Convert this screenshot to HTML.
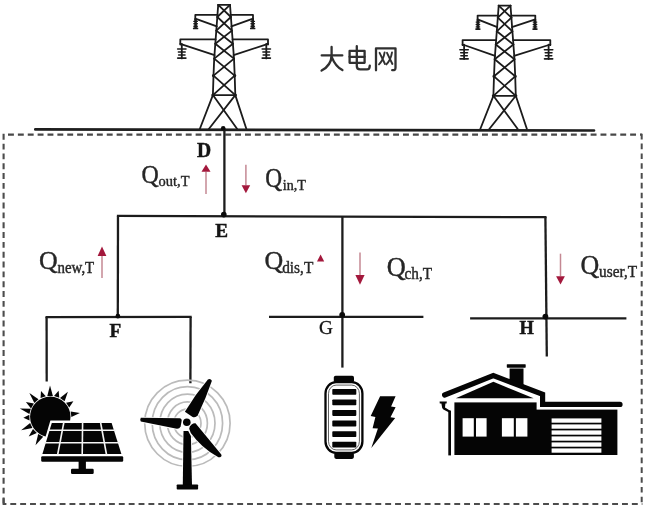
<!DOCTYPE html>
<html lang="zh">
<head>
<meta charset="utf-8">
<title>Grid diagram</title>
<style>
html,body{margin:0;padding:0;background:#fff;}
body{width:648px;height:510px;overflow:hidden;font-family:"Liberation Serif",serif;}
svg{display:block;filter:blur(0.6px);}
</style>
</head>
<body>
<svg width="648" height="510" viewBox="0 0 648 510">
<rect width="648" height="510" fill="#fff"/>
<g fill="none" stroke="#1b1b1b" stroke-width="1.8" stroke-linecap="round" stroke-linejoin="round">
<polyline points="218.2,4.9 217.3,17.0 216.3,30.6 215.3,43.8 214.2,58.6 213.5,75.6 212.9,95.1"/>
<polyline points="230.0,4.9 230.9,17.0 231.9,30.6 232.9,43.8 234.0,58.6 234.7,75.6 235.3,95.1"/>
<line x1="218.2" y1="4.9" x2="230.0" y2="4.9"/>
<line x1="212.9" y1="95.1" x2="235.3" y2="95.1"/>
<line x1="218.2" y1="4.9" x2="230.9" y2="17.0"/>
<line x1="230.0" y1="4.9" x2="217.3" y2="17.0"/>
<line x1="217.3" y1="17.0" x2="231.9" y2="30.6"/>
<line x1="230.9" y1="17.0" x2="216.3" y2="30.6"/>
<line x1="216.3" y1="30.6" x2="232.9" y2="43.8"/>
<line x1="231.9" y1="30.6" x2="215.3" y2="43.8"/>
<line x1="215.3" y1="43.8" x2="234.0" y2="58.6"/>
<line x1="232.9" y1="43.8" x2="214.2" y2="58.6"/>
<line x1="214.2" y1="58.6" x2="234.7" y2="75.6"/>
<line x1="234.0" y1="58.6" x2="213.5" y2="75.6"/>
<line x1="213.5" y1="75.6" x2="235.3" y2="95.1"/>
<line x1="234.7" y1="75.6" x2="212.9" y2="95.1"/>
<line x1="212.9" y1="95.1" x2="199.8" y2="129.0"/>
<line x1="235.3" y1="95.1" x2="246.4" y2="129.0"/>
<line x1="212.9" y1="95.1" x2="237.2" y2="129.0"/>
<line x1="235.3" y1="95.1" x2="208.8" y2="129.0"/>
<circle cx="213.5" cy="75.6" r="0.7"/>
<circle cx="234.7" cy="75.6" r="0.7"/>
<circle cx="212.9" cy="95.1" r="0.7"/>
<circle cx="235.3" cy="95.1" r="0.7"/>
<polyline points="195.3,19.5 195.3,14.9 217.6,14.9"/>
<polyline points="230.6,14.9 253.0,14.9 253.0,19.5"/>
<line x1="195.3" y1="18.6" x2="216.8" y2="26.4"/>
<line x1="253.0" y1="18.6" x2="231.4" y2="26.4"/>
<polyline points="180.3,44.5 180.3,39.4 215.6,39.4"/>
<polyline points="232.6,39.4 268.0,39.4 268.0,44.5"/>
<line x1="180.3" y1="43.8" x2="214.6" y2="55.2"/>
<line x1="268.0" y1="43.8" x2="233.6" y2="55.2"/>
<line x1="195.6" y1="19.0" x2="195.6" y2="28.4" stroke-width="2.6" stroke-linecap="butt"/>
<line x1="193.9" y1="21.4" x2="197.3" y2="21.4" stroke-width="1.4"/>
<line x1="193.9" y1="23.8" x2="197.3" y2="23.8" stroke-width="1.4"/>
<line x1="193.9" y1="26.2" x2="197.3" y2="26.2" stroke-width="1.4"/>
<line x1="193.7" y1="28.4" x2="197.5" y2="28.4" stroke-width="1.7"/>
<line x1="252.7" y1="19.0" x2="252.7" y2="28.4" stroke-width="2.6" stroke-linecap="butt"/>
<line x1="251.0" y1="21.4" x2="254.4" y2="21.4" stroke-width="1.4"/>
<line x1="251.0" y1="23.8" x2="254.4" y2="23.8" stroke-width="1.4"/>
<line x1="251.0" y1="26.2" x2="254.4" y2="26.2" stroke-width="1.4"/>
<line x1="250.8" y1="28.4" x2="254.6" y2="28.4" stroke-width="1.7"/>
<line x1="181.8" y1="44.0" x2="181.8" y2="58.4" stroke-width="1.8"/>
<line x1="177.6" y1="49.0" x2="186.0" y2="49.0" stroke-width="1.5"/>
<line x1="178.4" y1="52.0" x2="185.2" y2="52.0" stroke-width="1.5"/>
<line x1="178.6" y1="55.0" x2="185.0" y2="55.0" stroke-width="1.5"/>
<line x1="177.8" y1="58.1" x2="185.8" y2="58.1" stroke-width="1.8"/>
<line x1="266.3" y1="44.0" x2="266.3" y2="58.4" stroke-width="1.8"/>
<line x1="262.1" y1="49.0" x2="270.5" y2="49.0" stroke-width="1.5"/>
<line x1="262.9" y1="52.0" x2="269.7" y2="52.0" stroke-width="1.5"/>
<line x1="263.1" y1="55.0" x2="269.5" y2="55.0" stroke-width="1.5"/>
<line x1="262.3" y1="58.1" x2="270.3" y2="58.1" stroke-width="1.8"/>
<polyline points="498.7,5.6 497.8,17.7 496.8,31.3 495.8,44.5 494.7,59.3 494.0,76.3 493.4,95.8"/>
<polyline points="510.5,5.6 511.4,17.7 512.4,31.3 513.4,44.5 514.5,59.3 515.2,76.3 515.8,95.8"/>
<line x1="498.7" y1="5.6" x2="510.5" y2="5.6"/>
<line x1="493.4" y1="95.8" x2="515.8" y2="95.8"/>
<line x1="498.7" y1="5.6" x2="511.4" y2="17.7"/>
<line x1="510.5" y1="5.6" x2="497.8" y2="17.7"/>
<line x1="497.8" y1="17.7" x2="512.4" y2="31.3"/>
<line x1="511.4" y1="17.7" x2="496.8" y2="31.3"/>
<line x1="496.8" y1="31.3" x2="513.4" y2="44.5"/>
<line x1="512.4" y1="31.3" x2="495.8" y2="44.5"/>
<line x1="495.8" y1="44.5" x2="514.5" y2="59.3"/>
<line x1="513.4" y1="44.5" x2="494.7" y2="59.3"/>
<line x1="494.7" y1="59.3" x2="515.2" y2="76.3"/>
<line x1="514.5" y1="59.3" x2="494.0" y2="76.3"/>
<line x1="494.0" y1="76.3" x2="515.8" y2="95.8"/>
<line x1="515.2" y1="76.3" x2="493.4" y2="95.8"/>
<line x1="493.4" y1="95.8" x2="480.3" y2="129.0"/>
<line x1="515.8" y1="95.8" x2="526.9" y2="129.0"/>
<line x1="493.4" y1="95.8" x2="517.7" y2="129.0"/>
<line x1="515.8" y1="95.8" x2="489.3" y2="129.0"/>
<circle cx="494.0" cy="76.3" r="0.7"/>
<circle cx="515.2" cy="76.3" r="0.7"/>
<circle cx="493.4" cy="95.8" r="0.7"/>
<circle cx="515.8" cy="95.8" r="0.7"/>
<polyline points="477.6,20.2 477.6,15.6 498.1,15.6"/>
<polyline points="511.1,15.6 535.3,15.6 535.3,20.2"/>
<line x1="477.6" y1="19.3" x2="497.3" y2="27.1"/>
<line x1="535.3" y1="19.3" x2="511.9" y2="27.1"/>
<polyline points="462.6,45.2 462.6,40.1 496.1,40.1"/>
<polyline points="513.1,40.1 550.3,40.1 550.3,45.2"/>
<line x1="462.6" y1="44.5" x2="495.1" y2="55.9"/>
<line x1="550.3" y1="44.5" x2="514.1" y2="55.9"/>
<line x1="477.9" y1="19.7" x2="477.9" y2="29.1" stroke-width="2.6" stroke-linecap="butt"/>
<line x1="476.2" y1="22.1" x2="479.6" y2="22.1" stroke-width="1.4"/>
<line x1="476.2" y1="24.5" x2="479.6" y2="24.5" stroke-width="1.4"/>
<line x1="476.2" y1="26.9" x2="479.6" y2="26.9" stroke-width="1.4"/>
<line x1="476.0" y1="29.1" x2="479.8" y2="29.1" stroke-width="1.7"/>
<line x1="535.0" y1="19.7" x2="535.0" y2="29.1" stroke-width="2.6" stroke-linecap="butt"/>
<line x1="533.3" y1="22.1" x2="536.7" y2="22.1" stroke-width="1.4"/>
<line x1="533.3" y1="24.5" x2="536.7" y2="24.5" stroke-width="1.4"/>
<line x1="533.3" y1="26.9" x2="536.7" y2="26.9" stroke-width="1.4"/>
<line x1="533.1" y1="29.1" x2="536.9" y2="29.1" stroke-width="1.7"/>
<line x1="464.1" y1="44.7" x2="464.1" y2="59.1" stroke-width="1.8"/>
<line x1="459.9" y1="49.7" x2="468.3" y2="49.7" stroke-width="1.5"/>
<line x1="460.7" y1="52.7" x2="467.5" y2="52.7" stroke-width="1.5"/>
<line x1="460.9" y1="55.7" x2="467.3" y2="55.7" stroke-width="1.5"/>
<line x1="460.1" y1="58.8" x2="468.1" y2="58.8" stroke-width="1.8"/>
<line x1="548.6" y1="44.7" x2="548.6" y2="59.1" stroke-width="1.8"/>
<line x1="544.4" y1="49.7" x2="552.8" y2="49.7" stroke-width="1.5"/>
<line x1="545.2" y1="52.7" x2="552.0" y2="52.7" stroke-width="1.5"/>
<line x1="545.4" y1="55.7" x2="551.8" y2="55.7" stroke-width="1.5"/>
<line x1="544.6" y1="58.8" x2="552.6" y2="58.8" stroke-width="1.8"/>
</g>
<line x1="35.3" y1="129.4" x2="594.0" y2="130.5" stroke="#1e1e1e" stroke-width="2.7" stroke-linecap="round"/>
<path d="M8.0,134.6 H641.9" fill="none" stroke="#484848" stroke-width="2.3" stroke-dasharray="5.9 3.975"/>
<path d="M3.6,133.8 V503.9" fill="none" stroke="#4c4c4c" stroke-width="2.1" stroke-dasharray="5.9 3.93"/>
<path d="M641.7,133.8 V503.9" fill="none" stroke="#4c4c4c" stroke-width="2.0" stroke-dasharray="5.6 4.21"/>
<path d="M3.6,498.2 V503.9 H6.4" fill="none" stroke="#4c4c4c" stroke-width="2.0"/>
<path d="M10.3,503.9 H642.4" fill="none" stroke="#4c4c4c" stroke-width="2.0" stroke-dasharray="5.9 3.966"/>
<g fill="none" stroke="#1c1c1c" stroke-width="2.3" stroke-linecap="butt">
<line x1="224.4" y1="129" x2="224.4" y2="216.2"/>
<line x1="116.9" y1="215.9" x2="546.5" y2="217.2"/>
<line x1="118.0" y1="215.9" x2="117.8" y2="317"/>
<line x1="45.5" y1="317.1" x2="191.7" y2="316.9"/>
<line x1="46.6" y1="317" x2="46.7" y2="381.4"/>
<line x1="190.6" y1="317" x2="190.4" y2="383.2"/>
<line x1="342.4" y1="216.5" x2="342.4" y2="367.6"/>
<line x1="269.0" y1="316.8" x2="423.4" y2="316.8"/>
<line x1="545.4" y1="217" x2="546.8" y2="356.4"/>
<line x1="470.1" y1="318.4" x2="626.4" y2="318.3"/>
</g>
<circle cx="223.2" cy="128.3" r="2.3" fill="#0a0a0a"/>
<circle cx="223.8" cy="214.6" r="2.8" fill="#0a0a0a"/>
<circle cx="117.9" cy="316.2" r="2.4" fill="#0a0a0a"/>
<circle cx="342.2" cy="314.8" r="2.9" fill="#0a0a0a"/>
<circle cx="545.4" cy="316.6" r="2.9" fill="#0a0a0a"/>
<line x1="206.0" y1="171.7" x2="206.0" y2="193.9" stroke="#c48893" stroke-width="1.5"/><polygon points="206.0,164.5 201.5,171.7 210.5,171.7" fill="#a3183c"/>
<line x1="245.9" y1="185.20000000000002" x2="245.9" y2="164.7" stroke="#c48893" stroke-width="1.5"/><polygon points="245.9,193.3 241.6,185.20000000000002 250.20000000000002,185.20000000000002" fill="#a3183c"/>
<line x1="102.0" y1="255.9" x2="102.0" y2="277.9" stroke="#c48893" stroke-width="1.5"/><polygon points="102.0,246.6 97.6,255.9 106.4,255.9" fill="#a3183c"/>
<line x1="360.0" y1="274.9" x2="360.0" y2="252.4" stroke="#c48893" stroke-width="1.5"/><polygon points="360.0,284.7 355.4,274.9 364.6,274.9" fill="#a3183c"/>
<line x1="560.5" y1="276.20000000000005" x2="560.5" y2="253.7" stroke="#c48893" stroke-width="1.5"/><polygon points="560.5,284.6 556.1,276.20000000000005 564.9,276.20000000000005" fill="#a3183c"/>
<polygon points="320.6,254.4 317.0,261.4 324.2,261.4" fill="#a3183c"/>
<text transform="translate(141.47,182.91) scale(1,1.029)" font-family="'Liberation Serif', serif" font-size="23.94" fill="#262626" stroke="#262626" stroke-width="0.38">Q</text>
<text transform="translate(158.60,185.95) scale(1,1.001)" font-family="'Liberation Serif', serif" font-size="14.49" fill="#262626" stroke="#262626" stroke-width="0.38">out,T</text>
<text transform="translate(265.19,187.18) scale(1,1.130)" font-family="'Liberation Serif', serif" font-size="23.34" fill="#262626" stroke="#262626" stroke-width="0.38">Q</text>
<text transform="translate(282.75,190.35) scale(1,1.092)" font-family="'Liberation Serif', serif" font-size="14.12" fill="#262626" stroke="#262626" stroke-width="0.38">in,T</text>
<text transform="translate(39.09,269.19) scale(1,0.979)" font-family="'Liberation Serif', serif" font-size="25.90" fill="#262626" stroke="#262626" stroke-width="0.38">Q</text>
<text transform="translate(57.51,272.75) scale(1,1.094)" font-family="'Liberation Serif', serif" font-size="14.92" fill="#262626" stroke="#262626" stroke-width="0.38">new,T</text>
<text transform="translate(264.39,269.19) scale(1,0.979)" font-family="'Liberation Serif', serif" font-size="25.90" fill="#262626" stroke="#262626" stroke-width="0.38">Q</text>
<text transform="translate(282.20,273.25) scale(1,1.093)" font-family="'Liberation Serif', serif" font-size="15.34" fill="#262626" stroke="#262626" stroke-width="0.38">dis,T</text>
<text transform="translate(386.67,275.57) scale(1,1.034)" font-family="'Liberation Serif', serif" font-size="26.35" fill="#262626" stroke="#262626" stroke-width="0.38">Q</text>
<text transform="translate(404.57,278.75) scale(1,1.069)" font-family="'Liberation Serif', serif" font-size="15.26" fill="#262626" stroke="#262626" stroke-width="0.38">ch,T</text>
<text transform="translate(580.49,273.57) scale(1,1.052)" font-family="'Liberation Serif', serif" font-size="25.90" fill="#262626" stroke="#262626" stroke-width="0.38">Q</text>
<text transform="translate(599.05,276.75) scale(1,1.093)" font-family="'Liberation Serif', serif" font-size="15.34" fill="#262626" stroke="#262626" stroke-width="0.38">user,T</text>
<text transform="translate(197.0,156.8) scale(1,1.09)" font-family="'Liberation Serif', serif" font-size="19.6" font-weight="bold" fill="#151515" stroke="#151515" stroke-width="0.45">D</text>
<text transform="translate(215.2,237.2) scale(1,1.03)" font-family="'Liberation Serif', serif" font-size="19.2" font-weight="bold" fill="#151515" stroke="#151515" stroke-width="0.45">E</text>
<text transform="translate(109.6,336.6) scale(1,1.0)" font-family="'Liberation Serif', serif" font-size="19.2" font-weight="bold" fill="#151515" stroke="#151515" stroke-width="0.45">F</text>
<text transform="translate(318.9,334.0) scale(1,1.0)" font-family="'Liberation Serif', serif" font-size="19.2" font-weight="normal" fill="#151515" stroke="#151515" stroke-width="0.3">G</text>
<text transform="translate(519.6,334.4) scale(1,1.05)" font-family="'Liberation Serif', serif" font-size="18.4" font-weight="bold" fill="#151515" stroke="#151515" stroke-width="0.45">H</text>
<g fill="none" stroke="#303030" stroke-width="2.3" stroke-linecap="round" stroke-linejoin="round">
<path d="M321.7,55.4 H342.3"/>
<path d="M331.6,46.9 V55.4 C331.4,62 327.6,67.4 321.6,70.6"/>
<path d="M331.9,57.3 C334,62.8 337.4,67.3 342.4,70.1"/>
<path d="M349.6,50.9 H364.6 V62.8 H349.6 Z"/>
<path d="M349.6,56.8 H364.6"/>
<path d="M356.8,46.2 V66.0 C356.8,68.5 357.7,69.4 360.2,69.4 H367.0 C369.0,69.4 369.7,68.5 369.8,65.6"/>
<path d="M376.0,70.3 V48.3 H395.5 V67.8 C395.5,69.7 394.7,70.3 392.2,70.2"/>
<path d="M379.6,52.8 L385.0,64.0 M384.6,52.4 C383.8,57.4 382.0,61.4 379.0,64.4" stroke-width="1.9"/>
<path d="M387.0,52.8 L392.4,64.0 M392.0,52.4 C391.2,57.4 389.4,61.4 386.4,64.4" stroke-width="1.9"/>
</g>
<g fill="#050505">
<circle cx="50.3" cy="416.8" r="20.2"/>
<polygon points="79.9,413.0 70.7,411.4 71.4,416.9"/>
<polygon points="73.4,401.3 66.1,402.8 69.2,407.5"/>
<polygon points="67.9,391.7 60.0,398.1 64.6,401.3"/>
<polygon points="58.6,390.7 54.0,396.0 59.3,397.7"/>
<polygon points="50.0,385.5 47.3,395.9 52.9,395.9"/>
<polygon points="41.0,391.0 40.6,398.1 45.8,396.2"/>
<polygon points="29.4,393.1 34.4,403.0 38.5,399.3"/>
<polygon points="25.9,402.0 31.0,408.4 33.9,403.6"/>
<polygon points="19.8,408.6 29.4,414.1 30.8,408.7"/>
<polygon points="23.4,417.8 29.5,420.4 29.3,414.8"/>
<polygon points="21.1,430.2 32.4,428.0 30.1,423.0"/>
<polygon points="28.7,436.6 36.8,433.0 33.0,428.9"/>
<polygon points="35.5,445.3 43.2,436.7 38.2,434.1"/>
</g>
<polygon points="50.4,420.6 112.6,420.6 125.6,463.6 37.6,463.6" fill="#fff"/>
<polygon points="51.8,423.1 111.6,423.1 121.4,454.1 42.4,454.1" fill="#050505"/>
<g stroke="#f4f4f4" stroke-width="1.6" fill="none">
<line x1="48" y1="430.3" x2="116" y2="430.3"/>
<line x1="44" y1="442.7" x2="120" y2="442.7"/>
<line x1="63.9" y1="422" x2="57.6" y2="455"/>
<line x1="82.6" y1="422" x2="82.2" y2="455"/>
<line x1="100.5" y1="422" x2="106.6" y2="455"/>
</g>
<rect x="41.2" y="456.3" width="82" height="5.4" rx="1.2" fill="#050505"/>
<rect x="78.6" y="461" width="7.3" height="9" fill="#050505"/>
<rect x="71.0" y="468.7" width="22.7" height="5.2" rx="1.2" fill="#050505"/>
<g fill="none" stroke="#bbbbbb" stroke-width="1.7">
<ellipse cx="187.4" cy="423.3" rx="42.7" ry="43.1"/>
<ellipse cx="187.4" cy="423.3" rx="35.2" ry="36.6"/>
<ellipse cx="187.4" cy="423.3" rx="27.6" ry="29.2"/>
<ellipse cx="187.4" cy="423.3" rx="20.0" ry="21.4"/>
<ellipse cx="187.4" cy="423.3" rx="13.6" ry="14.2"/>
</g>
<polygon points="183.5,431.0 188.2,431.0 190.9,436.0 192.0,485 182.8,485" fill="#050505" stroke="#fff" stroke-width="1.6" paint-order="stroke"/>
<rect x="176.7" y="484.4" width="21.4" height="5.2" rx="0.8" fill="#050505"/>
<g fill="#050505" stroke="#fff" stroke-width="1.8" paint-order="stroke" stroke-linejoin="round">
<path d="M184.9,411.7 Q195.1,394.6 207.9,379.5 Q210.6,378.3 211.9,380.8 Q205.9,398.4 197.8,415.2 Q195.6,418.2 192.6,417.0 Z"/>
<path d="M140.8,417.8 L180.0,418.3 Q181.8,418.8 181.7,420.6 L180.6,426.4 Q179.6,429.0 176.8,428.8 L140.8,421.6 Q139.6,419.8 140.8,417.8 Z"/>
<path d="M195.5,423.3 L221.3,454.6 Q222.2,456.2 220.6,457.0 Q219.0,457.8 217.6,456.8 Q201.6,447.9 190.8,433.0 L189.2,428.8 Q189.4,425.8 191.6,424.6 Q193.6,423.0 195.5,423.3 Z"/>
<circle cx="186.8" cy="422.3" r="3.8"/>
</g>
<rect x="333.8" y="375.8" width="20.2" height="6.6" rx="1.8" fill="#050505"/>
<rect x="334.3" y="452.6" width="19.6" height="6.3" rx="1.8" fill="#050505"/>
<rect x="325.5" y="382.1" width="36.9" height="70.8" rx="10.5" ry="11.5" fill="#fff" stroke="#050505" stroke-width="2.3"/>
<rect x="328.5" y="385.1" width="30.9" height="64.8" rx="7.6" ry="8.6" fill="none" stroke="#3a3a3a" stroke-width="0.8"/>
<rect x="332.3" y="388.90" width="24.0" height="5.9" rx="0.8" fill="#050505"/>
<rect x="332.3" y="399.46" width="24.0" height="5.9" rx="0.8" fill="#050505"/>
<rect x="332.3" y="410.02" width="24.0" height="5.9" rx="0.8" fill="#050505"/>
<rect x="332.3" y="420.58" width="24.0" height="5.9" rx="0.8" fill="#050505"/>
<rect x="332.3" y="431.14" width="24.0" height="5.9" rx="0.8" fill="#050505"/>
<rect x="332.3" y="441.70" width="24.0" height="5.9" rx="0.8" fill="#050505"/>
<polygon points="380.1,396.2 395.6,396.2 391.1,406.6 395.6,407.2 390.5,417.3 395.2,417.9 371.3,448.0 377.9,428.6 372.6,428.3 375.4,417.0 370.7,416.0" fill="#050505"/>
<g fill="#050505">
<rect x="506.8" y="364.2" width="18.9" height="3.5" rx="0.6"/>
<polygon points="509.6,368.5 523.5,368.5 523.5,387.4 509.6,382.2"/>
<rect x="454.4" y="402.4" width="82.2" height="52.6"/>
<rect x="536" y="409.6" width="81.4" height="45.4"/>
<polygon points="493.4,381.8 533.6,398.2 455.8,398.2"/>
<rect x="448.3" y="410.6" width="2.7" height="44.8"/>
<polygon points="439.6,401.6 446.8,401.6 446.6,403.4 445.4,403.6 445.0,407.6 451.0,411.2 451.0,413.6 443.4,409.4 442.2,408.0 441.4,403.6 439.8,403.4"/>
</g>
<path d="M444.6,395.0 L493.3,375.6 L542.6,394.2 V404.4 H620.0" fill="none" stroke="#050505" stroke-width="5.2" stroke-linejoin="miter" stroke-linecap="round"/>
<g fill="#fff">
<rect x="462.6" y="418.2" width="11.2" height="18.4"/>
<rect x="476.0" y="418.2" width="10.6" height="18.4"/>
<rect x="501.9" y="418.2" width="11.9" height="18.4"/>
<rect x="515.9" y="418.2" width="11.5" height="18.4"/>
<rect x="551.6" y="418.4" width="49.8" height="4.3"/>
<rect x="551.6" y="424.4" width="49.8" height="4.3"/>
<rect x="551.6" y="430.4" width="49.8" height="4.3"/>
<rect x="551.6" y="436.4" width="49.8" height="4.3"/>
<rect x="551.6" y="442.4" width="49.8" height="4.3"/>
<rect x="551.6" y="448.4" width="49.8" height="4.3"/>
</g>
</svg>
</body>
</html>
